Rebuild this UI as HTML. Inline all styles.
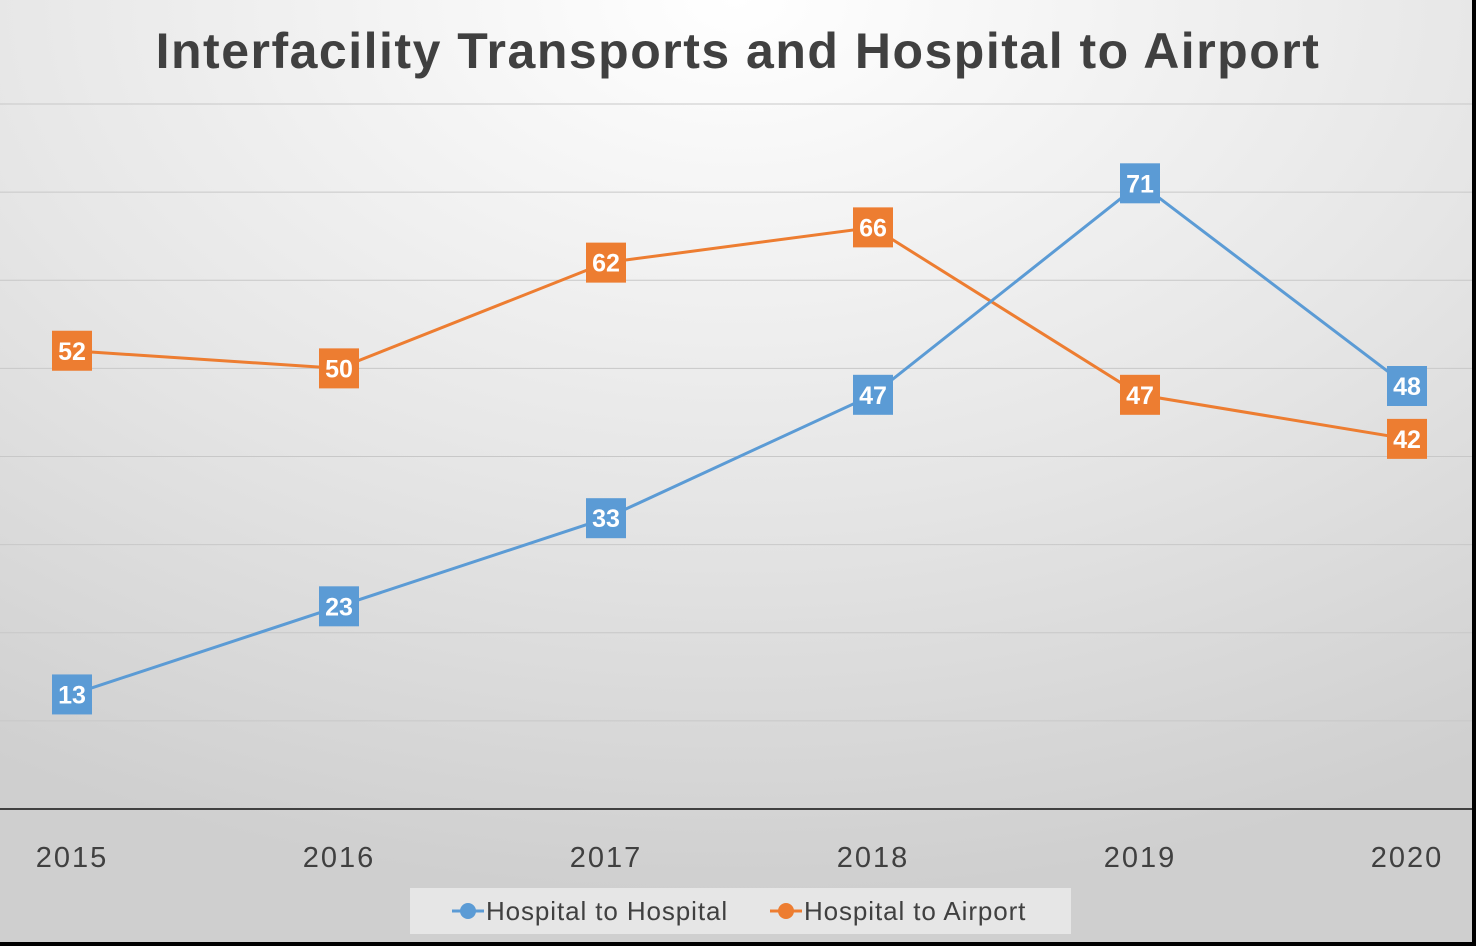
<!DOCTYPE html>
<html><head><meta charset="utf-8"><style>
html,body{margin:0;padding:0;background:#000;}
#chart{position:absolute;left:0;top:0;width:1476px;height:946px;}
</style></head><body>
<svg id="chart" width="1476" height="946" xmlns="http://www.w3.org/2000/svg">
<defs>
<radialGradient id="bg" cx="50%" cy="0%" r="95%" fx="50%" fy="0%">
<stop offset="0" stop-color="#ffffff"/>
<stop offset="0.55" stop-color="#e6e6e6"/>
<stop offset="1" stop-color="#cfcfcf"/>
</radialGradient>
</defs>
<rect x="0" y="0" width="1472" height="942" fill="url(#bg)"/>
<text x="738" y="68" text-anchor="middle" font-family="'Liberation Sans',sans-serif" font-weight="bold" font-size="50" letter-spacing="1.5" fill="#404040">Interfacility Transports and Hospital to Airport</text>
<g id="grid"></g>
<g id="xaxis"></g>
<g id="series"></g>
<g>
<rect x="410" y="888" width="661" height="46" fill="#ebebeb" opacity="0.8"/>
<line x1="452" y1="911" x2="484" y2="911" stroke="#5b9bd5" stroke-width="3"/>
<circle cx="468" cy="911" r="8" fill="#5b9bd5"/>
<text x="486" y="920" font-family="'Liberation Sans',sans-serif" font-size="26" letter-spacing="0.9" fill="#404040">Hospital to Hospital</text>
<line x1="770" y1="911" x2="802" y2="911" stroke="#ed7d31" stroke-width="3"/>
<circle cx="786" cy="911" r="8" fill="#ed7d31"/>
<text x="804" y="920" font-family="'Liberation Sans',sans-serif" font-size="26" letter-spacing="0.9" fill="#404040">Hospital to Airport</text>
</g>
</svg>
<script>
const categories = ["2015","2016","2017","2018","2019","2020"];
const hospitalToHospital = [13,23,33,47,71,48];
const hospitalToAirport = [52,50,62,66,47,42];
const gridValues = [0,10,20,30,40,50,60,70,80];
const NS="http://www.w3.org/2000/svg";
const x0=72, dx=267, yBase=809, yPerUnit=8.8125;
function xPos(i){return x0+i*dx;}
function yPos(v){return yBase-v*yPerUnit;}
function mk(tag,attrs,parent){const e=document.createElementNS(NS,tag);for(const k in attrs)e.setAttribute(k,attrs[k]);parent.appendChild(e);return e;}
const grid=document.getElementById('grid');
gridValues.forEach(v=>{
  const l=mk('line',{x1:0,x2:1472,y1:yPos(v),y2:yPos(v),stroke:v===0?'#404040':'#c8c8c8','stroke-width':v===0?2:1},grid);
  
  
});
const xa=document.getElementById('xaxis');
categories.forEach((c,i)=>{
  const t=mk('text',{x:xPos(i),y:867,'text-anchor':'middle','font-family':"'Liberation Sans',sans-serif",'font-size':29,'letter-spacing':2,fill:'#404040'},xa);
  t.textContent=c;
  
  
});
const sg=document.getElementById('series');
function drawSeries(vals,color,name){
  const pts=vals.map((v,i)=>xPos(i)+','+yPos(v)).join(' ');
  const pl=mk('polyline',{points:pts,fill:'none',stroke:color,'stroke-width':3},sg);
  
  
  vals.forEach((v,i)=>{
    const g=mk('g',{},sg);
    
    
    mk('rect',{x:xPos(i)-20,y:yPos(v)-20,width:40,height:40,fill:color},g);
    const t=mk('text',{x:xPos(i),y:yPos(v)+9,'text-anchor':'middle','font-family':"'Liberation Sans',sans-serif",'font-weight':'bold','font-size':25,fill:'#fff'},g);
    t.textContent=v;
  });
}
drawSeries(hospitalToAirport,'#ed7d31','hospital-to-airport');
drawSeries(hospitalToHospital,'#5b9bd5','hospital-to-hospital');
</script>
</body></html>
